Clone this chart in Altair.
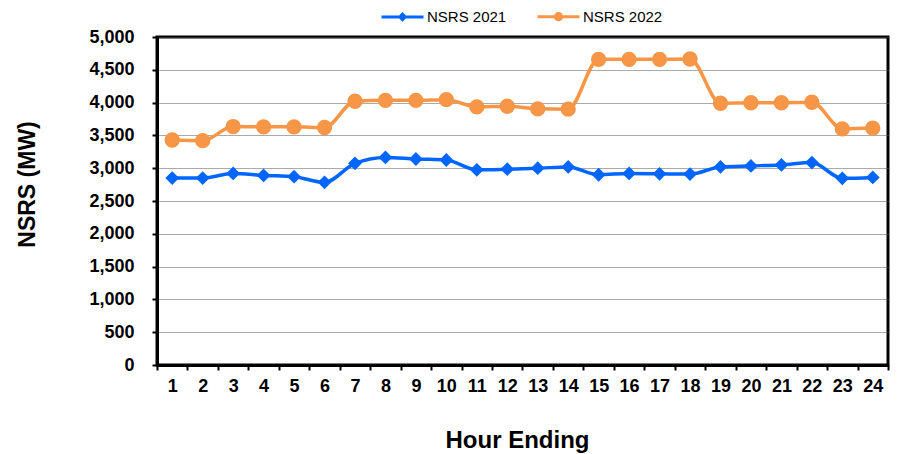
import altair as alt
import pandas as pd

# ---- data ----
hours = list(range(1, 25))
nsrs_2021 = [2850, 2850, 2920, 2890, 2870, 2785, 3075, 3165, 3140, 3125, 2975, 2985,
             3000, 3020, 2900, 2920, 2915, 2910, 3020, 3035, 3050, 3085, 2845, 2860]
nsrs_2022 = [3430, 3420, 3635, 3630, 3630, 3620, 4020, 4035, 4035, 4045, 3935, 3945,
             3905, 3900, 4660, 4660, 4660, 4665, 3990, 3998, 3998, 4005, 3600, 3612]
series_names = ["NSRS 2021", "NSRS 2022"]
series_colors = ["#0066FF", "#F79646"]
y_ticks = list(range(0, 5001, 500))

df = pd.DataFrame({
    "hour": hours * 2,
    "value": nsrs_2021 + nsrs_2022,
    "series": [series_names[0]] * len(hours) + [series_names[1]] * len(hours),
})

FONT = "Liberation Sans"

x_enc = alt.X(
    "hour:O",
    scale=alt.Scale(type="band", paddingInner=0, paddingOuter=0),
    axis=alt.Axis(
        title="Hour Ending", labelAngle=0, tickBand="extent",
        labelFont=FONT, labelFontSize=18, labelFontWeight="bold", labelColor="black",
        labelPadding=7, tickSize=5, tickWidth=2, tickColor="black",
        domainColor="black", domainWidth=3, grid=False,
        titleFont=FONT, titleFontSize=24, titleFontWeight="bold", titleColor="black",
        titleBaseline="alphabetic", titleY=82, titleX=360,
    ),
)
y_enc = alt.Y(
    "value:Q",
    scale=alt.Scale(domain=[0, 5000], nice=False, zero=True),
    axis=alt.Axis(
        title="NSRS (MW)", values=y_ticks, format=",.0f",
        labelFont=FONT, labelFontSize=18, labelFontWeight="bold", labelColor="black",
        labelPadding=18, tickSize=5, tickWidth=2, tickColor="black",
        domainColor="black", domainWidth=3,
        grid=True, gridColor="#555555", gridDash=[1, 1], gridWidth=1,
        titleFont=FONT, titleFontSize=23, titleFontWeight="bold", titleColor="black",
        titleBaseline="alphabetic", titleX=-123, titleY=147, titleAngle=270,
    ),
)
color_scale = alt.Scale(domain=series_names, range=series_colors)

legend_paths = [
    "M-1,0L1,0M0,-0.13L0.13,0L0,0.13L-0.13,0Z",
    "M-1,0L1,0M-0.15,0A0.15,0.15 0 1,0 0.15,0A0.15,0.15 0 1,0 -0.15,0Z",
]
legend_def = alt.Legend(
    title=None, orient="none", legendX=223, legendY=-43, direction="horizontal",
    columns=2, symbolSize=1764, symbolStrokeWidth=3, labelFont=FONT,
    labelFontSize=15, labelColor="black", labelOffset=2, columnPadding=24, padding=0,
)
# legend-only layer (no rows drawn), placed first so its legend settings win
legend_layer = alt.Chart(df).transform_filter("false").mark_point(
    filled=False, strokeWidth=3, opacity=1
).encode(
    x=x_enc, y=y_enc,
    color=alt.Color("series:N", scale=color_scale, legend=legend_def),
    shape=alt.Shape("series:N", scale=alt.Scale(domain=series_names, range=legend_paths),
                    legend=legend_def),
)

base = alt.Chart(df).encode(
    x=x_enc, y=y_enc,
    color=alt.Color("series:N", scale=color_scale, legend=None),
)

lines = base.mark_line(strokeWidth=3.5, interpolate="monotone")
pts21 = base.transform_filter(alt.datum.series == series_names[0]).mark_point(
    shape="diamond", filled=True, size=190, opacity=1)
pts22 = base.transform_filter(alt.datum.series == series_names[1]).mark_point(
    shape="circle", filled=True, size=235, opacity=1)

chart = alt.layer(legend_layer, lines, pts21, pts22).properties(
    width=731, height=328,
    autosize=alt.AutoSizeParams(type="none"),
    padding={"left": 149, "top": 29, "right": 4, "bottom": 89},
    background="white",
).configure_view(stroke="black", strokeWidth=3)

chart.save("out.html", embed_options={"renderer": "svg", "actions": False})
